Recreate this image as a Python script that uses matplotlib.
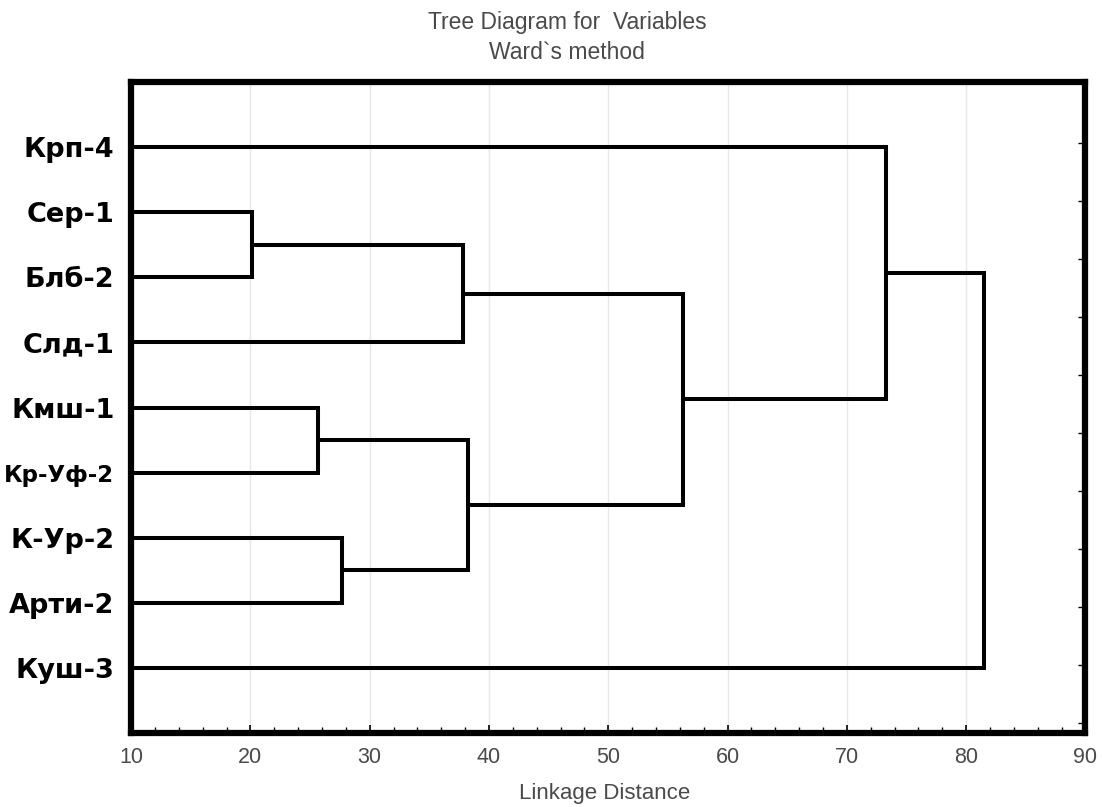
import numpy as np
import matplotlib
matplotlib.use('Agg')
import matplotlib.pyplot as plt
from matplotlib.ticker import MultipleLocator

# leaf labels, top to bottom
labels = ['Крп-4', 'Сер-1', 'Блб-2', 'Слд-1', 'Кмш-1', 'Кр-Уф-2', 'К-Ур-2', 'Арти-2', 'Куш-3']
# merges: (node a, node b, linkage distance); new nodes get ids 9, 10, ...
merge_a = [1, 9, 4, 6, 11, 10, 0, 15]
merge_b = [2, 3, 5, 7, 12, 13, 14, 8]
merge_h = [20.1, 37.8, 25.7, 27.7, 38.2, 56.3, 73.3, 81.5]

plt.rcParams['font.family'] = ['Liberation Sans', 'DejaVu Sans']

fig = plt.figure(figsize=(11.02, 8.07), dpi=100)
ax = fig.add_axes([0.119, 0.092, 0.866, 0.806])

# node positions: leaves at 1..n
ypos = list(np.arange(1, len(labels) + 1, dtype=float))
hpos = [0.0] * len(labels)
for a, b, h in zip(merge_a, merge_b, merge_h):
    ax.plot([hpos[a], h, h, hpos[b]], [ypos[a], ypos[a], ypos[b], ypos[b]],
            color='black', lw=2.9, solid_joinstyle='miter', solid_capstyle='butt')
    ypos.append((ypos[a] + ypos[b]) / 2)
    hpos.append(h)

ax.set_xlim(10, 90)
ax.set_ylim(10.0, 0.0)
ax.xaxis.set_major_locator(MultipleLocator(10))
ax.xaxis.set_minor_locator(MultipleLocator(2))
ax.grid(axis='x', which='major', color='#e8e8e8', lw=1.0)
ax.set_axisbelow(True)
ax.tick_params(axis='x', which='major', direction='in', length=6, width=1.2,
               labelsize=15.5, labelcolor='#4a4a4a', pad=10)
ax.tick_params(axis='x', which='minor', direction='in', length=4, width=1.0)

ax.set_yticks(np.arange(1, len(labels) + 1))
ax.set_yticklabels(labels, fontfamily='DejaVu Sans', fontweight='bold', fontsize=19.5)
ax.tick_params(axis='y', length=0, pad=12)
for t in ax.get_yticklabels():
    if t.get_text() == 'Кр-Уф-2':
        t.set_fontsize(16.5)

for s in ax.spines.values():
    s.set_linewidth(4.5)

# small inner ticks on the right frame
ax2 = ax.twinx()
ax2.set_ylim(11.17, -0.05)
ax2.set_yticks(np.arange(1, 12))
ax2.tick_params(axis='y', direction='in', length=5, width=1.0, labelright=False)
for s in ax2.spines.values():
    s.set_visible(False)

fig.text(0.5145, 0.972, 'Tree Diagram for  Variables', ha='center', va='center',
         fontsize=16.5, color='#4a4a4a')
fig.text(0.5145, 0.935, 'Ward`s method', ha='center', va='center',
         fontsize=16.5, color='#4a4a4a')
fig.text(0.549, 0.017, 'Linkage Distance', ha='center', va='center',
         fontsize=16, color='#4a4a4a')

fig.savefig('out.png', dpi=100, facecolor='white')
